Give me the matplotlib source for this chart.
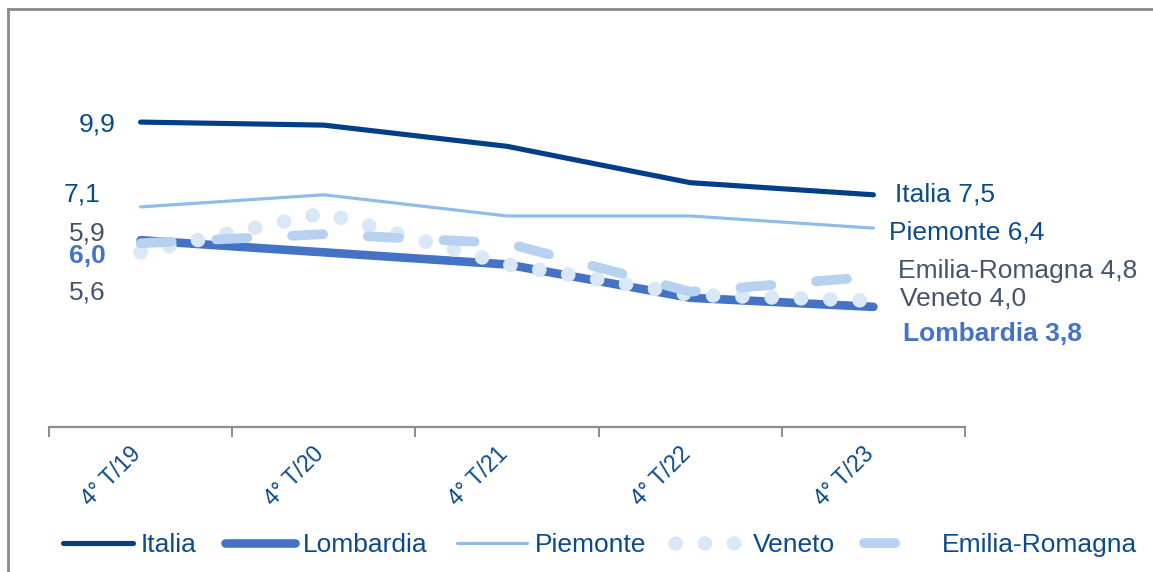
import matplotlib
matplotlib.use("Agg")
import matplotlib.pyplot as plt
from matplotlib.lines import Line2D
from matplotlib.transforms import ScaledTranslation

plt.rcParams['font.family'] = ['Liberation Sans', 'DejaVu Sans']

# ---- data ----
periods = ["4° T/19", "4° T/20", "4° T/21", "4° T/22", "4° T/23"]
italia = [9.9, 9.8, 9.1, 7.9, 7.5]
lombardia = [6.0, 5.6, 5.2, 4.1, 3.8]
piemonte = [7.1, 7.5, 6.8, 6.8, 6.4]
veneto = [5.6, 6.9, 5.2, 4.2, 4.0]
emilia = [5.9, 6.2, 5.9, 4.3, 4.8]
series_names = ["Italia", "Lombardia", "Piemonte", "Veneto", "Emilia-Romagna"]

DARK = "#0B4A8B"
GRAY = "#44546A"
C_IT = "#003F87"
C_LO = "#4472C4"
C_PI = "#8FBCE8"
C_VE = "#DAE7F7"
C_ER = "#B6D2F0"

W, H = 1153, 572
fig = plt.figure(figsize=(W / 100, H / 100), dpi=100)

def fx(px):
    return px / W

def fy(py):
    return 1 - py / H

ax = fig.add_axes([fx(49), fy(427), fx(965) - fx(49), fy(20) - fy(427)])
x = list(range(len(periods)))

FS = 19

ax.plot(x, italia, color=C_IT, lw=3.7, solid_capstyle='round', zorder=3)
ax.plot(x, lombardia, color=C_LO, lw=6.2, solid_capstyle='round', zorder=4)
ax.plot(x, piemonte, color=C_PI, lw=2.3, solid_capstyle='round', zorder=5)
ax.plot(x, veneto, color=C_VE, lw=10.5, dashes=(0.01, 2.0),
        dash_capstyle='round', zorder=6)
ax.plot(x, emilia, color=C_ER, lw=7.0, dashes=(3.2, 4.6),
        dash_capstyle='round', zorder=7)

ax.set_xlim(-0.5, len(periods) - 0.5)
ax.set_ylim(-0.166, 13.27)

def fmt(v):
    return f"{v:.1f}".replace('.', ',')

# left labels (first values)
left = [
    (italia[0], DARK, 'normal', (-25, -2)),
    (piemonte[0], DARK, 'normal', (-40, 12)),
    (emilia[0], GRAY, 'normal', (-35, 10)),
    (lombardia[0], C_LO, 'bold', (-35, -16)),
    (veneto[0], GRAY, 'normal', (-35, -40)),
]
for v, c, w, off in left:
    ax.annotate(fmt(v), xy=(0, v), xytext=off, textcoords='offset pixels',
                ha='right', va='center', color=c, fontsize=FS, fontweight=w,
                annotation_clip=False)

# right labels (last values)
last = len(periods) - 1
right = [
    ("Italia", italia[-1], DARK, 'normal', (22, 0)),
    ("Piemonte", piemonte[-1], DARK, 'normal', (16, -4)),
    ("Emilia-Romagna", emilia[-1], GRAY, 'normal', (25, 6)),
    ("Veneto", veneto[-1], GRAY, 'normal', (27, 2)),
    ("Lombardia", lombardia[-1], C_LO, 'bold', (30, -27)),
]
for name, v, c, w, off in right:
    ax.annotate(f"{name} {fmt(v)}", xy=(last, v), xytext=off,
                textcoords='offset pixels', ha='left', va='center',
                color=c, fontsize=FS, fontweight=w, annotation_clip=False)

for s in ['top', 'right', 'left']:
    ax.spines[s].set_visible(False)
ax.spines['bottom'].set_color('#8C8C8C')
ax.spines['bottom'].set_linewidth(1.6)
ax.set_yticks([])

ax.set_xticks([i - 0.5 for i in range(len(periods) + 1)])
ax.set_xticklabels([])
ax.tick_params(axis='x', which='major', length=7, width=1.4, color='#8C8C8C',
               direction='out')
ax.set_xticks(x, minor=True)
ax.set_xticklabels(periods, minor=True, rotation=45, ha='right', va='top',
                   color=DARK, fontsize=16.5)
ax.tick_params(axis='x', which='minor', length=0, pad=11)
shift = ScaledTranslation(5 / 100, 0, fig.dpi_scale_trans)
for lbl in ax.get_xticklabels(minor=True):
    lbl.set_transform(lbl.get_transform() + shift)

handles = [
    Line2D([], [], color=C_IT, lw=3.7, solid_capstyle='round'),
    Line2D([], [], color=C_LO, lw=6.2, solid_capstyle='round'),
    Line2D([], [], color=C_PI, lw=2.3, solid_capstyle='round'),
    Line2D([], [], color=C_VE, lw=10.5, dashes=(0.01, 2.0), dash_capstyle='round'),
    Line2D([], [], color=C_ER, lw=7.0, dashes=(3.2, 4.6), dash_capstyle='round'),
]
fig.legend(handles, series_names, loc='center', bbox_to_anchor=(fx(600), fy(545)),
           ncol=5, frameon=False, fontsize=FS, labelcolor=DARK,
           handlelength=2.65, handletextpad=0.3, columnspacing=1.1,
           borderpad=0, borderaxespad=0)

# outer frame
fig.add_artist(Line2D([fx(8), 1.0], [fy(9), fy(9)], color='#8A8A8A', lw=2.0))
fig.add_artist(Line2D([fx(8), fx(8)], [fy(9), 0.0], color='#8A8A8A', lw=2.0))

fig.savefig("out.png", dpi=100)
